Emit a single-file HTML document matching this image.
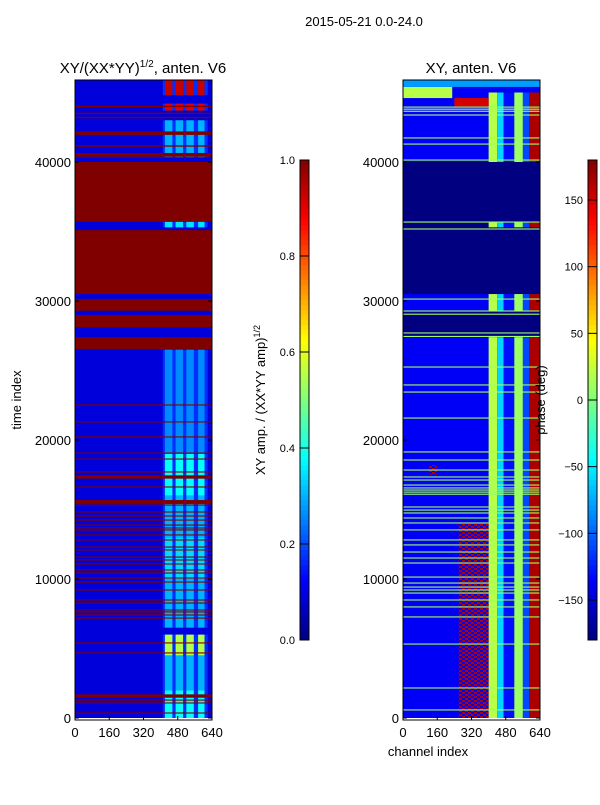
<!DOCTYPE html>
<html><head><meta charset="utf-8"><style>
body{margin:0;background:#fff;}
svg text{font-family:"Liberation Sans",sans-serif;fill:#000;}
</style></head><body>
<svg id="fig" width="600" height="800" xmlns="http://www.w3.org/2000/svg">
<defs>
<pattern id="speck" width="6" height="4" patternUnits="userSpaceOnUse">
<rect x="0" y="0" width="3" height="2" fill="#b00000"/><rect x="3" y="2" width="3" height="2" fill="#b00000"/>
</pattern>
</defs>
<text x="364" y="26" font-size="13" text-anchor="middle">2015-05-21 0.0-24.0</text>
<g id="left"></g>
<g id="right"></g>
<g id="cb1"></g>
<g id="cb2"></g>
<text x="143" y="73" font-size="15" text-anchor="middle">XY/(XX*YY)<tspan font-size="10" dy="-6">1/2</tspan><tspan dy="6">, anten. V6</tspan></text>
<text x="471" y="73" font-size="15" text-anchor="middle">XY, anten. V6</text>
<text transform="translate(21,400) rotate(-90)" font-size="13" text-anchor="middle">time index</text>
<text x="428" y="756" font-size="13" text-anchor="middle">channel index</text>
<text transform="translate(265,400) rotate(-90)" font-size="13" text-anchor="middle">XY amp. / (XX*YY amp)<tspan font-size="9" dy="-5">1/2</tspan></text>
<text transform="translate(545,400) rotate(-90)" font-size="13" text-anchor="middle">phase (deg)</text>
</svg>
<script>
const NS="http://www.w3.org/2000/svg";
const tMax=45900, chMax=640;
// amplitude panel data
const ampBg=0.09;
const ampRedBands=[[40000,35700],[35100,30500],[30150,29300],[29000,28100],[27400,26550],[44050,43950],[43550,43450],[43250,43150],[42200,41950],[41200,41100],[40650,40400],[40380,40300],
[22560,22480],[21340,21260],[20260,20180],[19100,19020],[18670,18590],[17740,17660],[17460,17220],[16660,16580],[15680,15400],[15360,15280],[14860,14780],[14570,14490],[14280,14200],[13920,13840],[13710,13630],[13570,13490],[13210,13130],[12850,12770],[12340,12260],[12130,12050],[11620,11540],[11410,11330],[11120,11040],[10690,10610],[10470,10390],[10110,10030],[9820,9740],[9250,9170],[8530,8450],[8310,8230],[7810,7730],[7670,7590],[7450,7370],[7230,7150],[5440,5360],[4720,4640],[1700,1460],[1330,1250],[1120,1040],[400,320]];
const ampBlocks=[[44800,45900,0.93],[43700,44200,0.9],[40300,43000,0.3],[35300,35700,0.35],[19000,26500,0.26],[16000,19000,0.38],[13000,16000,0.3],[10000,13000,0.34],[6500,10000,0.3],[4500,6000,0.55],[2000,4500,0.3],[0,2000,0.38]];
const ampCols=[[420,455],[470,505],[520,555],[575,605]];
// phase panel data
const phBg=-138;
const phNavy=[[30500,40000],[27400,29300],[35700,35100]];
const phBlocks=[[0,27400],[29300,30500],[35300,35700],[40000,45000]];
const phColCh=[[400,440],[440,470],[470,520],[520,560],[560,590],[590,640]];
const phColVal=[20,-60,-130,10,-110,165];
const phTop=[[44600,45400,0,230,20],[45400,45900,0,640,-80],[44000,44600,240,400,150]];
const phSpeckle=[[0,14000,260,400],[17500,18200,120,160]];
const phGreen=[23960,23450,21580,19140,18560,17840,17340,17120,16760,16550,16400,16250,16100,15180,14960,14750,14390,14030,13530,12810,12450,11940,11510,11150,10140,9710,9420,9210,8990,8490,7990,7270,5320,2160,580,43950,43800,43650,43380,41730,41290,40140,35680,35180,30140,29280,29050,27700,27450,25250];
const yTicks=[0,10000,20000,30000,40000];
const xTicks=[0,160,320,480,640];
const ampTicks=[0,0.2,0.4,0.6,0.8,1.0];
const phTicks=[-150,-100,-50,0,50,100,150];

function jet(v){v=Math.max(0,Math.min(1,v));
 const r=Math.max(0,Math.min(1,1.5-Math.abs(4*v-3))),g=Math.max(0,Math.min(1,1.5-Math.abs(4*v-2))),b=Math.max(0,Math.min(1,1.5-Math.abs(4*v-1)));
 return `rgb(${Math.round(r*255)},${Math.round(g*255)},${Math.round(b*255)})`;}
function ph(v){return jet((v+180)/360);}
function mk(tag,a,p){const e=document.createElementNS(NS,tag);for(const k in a)e.setAttribute(k,a[k]);p.appendChild(e);return e;}
function Y(t){return 718-t*0.0139;}
function panel(g,x0,name){
 const X=c=>x0+c*(137/chMax);
 return {X,rect:(t0,t1,c0,c1,fill,op)=>{const ya=Y(Math.max(t0,t1)),yb=Y(Math.min(t0,t1));
  const r=mk('rect',{x:X(c0),y:ya,width:X(c1)-X(c0),height:Math.max(1,yb-ya),fill:fill},g);
  if(op)r.setAttribute('opacity',op);
  
  return r;}};
}
function axes(g,x0){
 const X=c=>x0+c*(137/chMax);
 const f=mk('rect',{x:x0,y:Y(tMax),width:137,height:Y(0)-Y(tMax)+2,fill:'none',stroke:'#000','stroke-width':1},g);
 
 yTicks.forEach(t=>{mk('line',{x1:x0,x2:x0+4,y1:Y(t),y2:Y(t),stroke:'#000'},g);mk('line',{x1:x0+137,x2:x0+133,y1:Y(t),y2:Y(t),stroke:'#000'},g);
  const tx=mk('text',{x:x0-4,y:Y(t)+5,'font-size':13,'text-anchor':'end'},g);tx.textContent=t;
  });
 xTicks.forEach(c=>{mk('line',{x1:X(c),x2:X(c),y1:720,y2:716,stroke:'#000'},g);
  const tx=mk('text',{x:X(c),y:737,'font-size':13,'text-anchor':'middle'},g);tx.textContent=c;
  });
}
// left
(function(){const g=document.getElementById('left');const P=panel(g,75,'amp');
 P.rect(0,tMax,0,640,jet(ampBg));
 ampBlocks.forEach(b=>{P.rect(b[0],b[1],410,620,jet(0.17));ampCols.forEach(c=>P.rect(b[0],b[1],c[0],c[1],jet(b[2])));});
 ampRedBands.forEach(b=>P.rect(b[0],b[1],0,640,jet(1)));
 axes(g,75);})();
// right
(function(){const g=document.getElementById('right');const P=panel(g,403,'phase');
 P.rect(0,tMax,0,640,ph(phBg));
 phNavy.forEach(b=>P.rect(b[0],b[1],0,640,ph(-180)));
 phBlocks.forEach(b=>phColCh.forEach((c,i)=>P.rect(b[0],b[1],c[0],c[1],ph(phColVal[i]))));
 phTop.forEach(b=>P.rect(b[0],b[1],b[2],b[3],ph(b[4])));
 phSpeckle.forEach(b=>P.rect(b[0],b[1],b[2],b[3],'url(#speck)'));
 phGreen.forEach(t=>P.rect(t+40,t-40,0,640,ph(10)));
 axes(g,403);})();
// colorbars
function cbar(g,x,ticks,norm,lab){
 for(let i=0;i<96;i++){const v=i/96;const r=mk('rect',{x:x,y:640-(i+1)*5,width:9,height:5.3,fill:jet(v+0.005)},g);
  }
 mk('rect',{x:x,y:160,width:9,height:480,fill:'none',stroke:'#000'},g);
 ticks.forEach(t=>{const y=640-norm(t)*480;mk('line',{x1:x,x2:x+9,y1:y,y2:y,stroke:'#000'},g);
  const tx=mk('text',{x:x-5,y:y+4,'font-size':11,'text-anchor':'end'},g);tx.textContent=lab(t);
  });
}
cbar(document.getElementById('cb1'),300,ampTicks,v=>v,v=>v.toFixed(1));
cbar(document.getElementById('cb2'),588,phTicks,v=>(v+180)/360,v=>v<0?'\u2212'+(-v):String(v));
</script>
</body></html>
